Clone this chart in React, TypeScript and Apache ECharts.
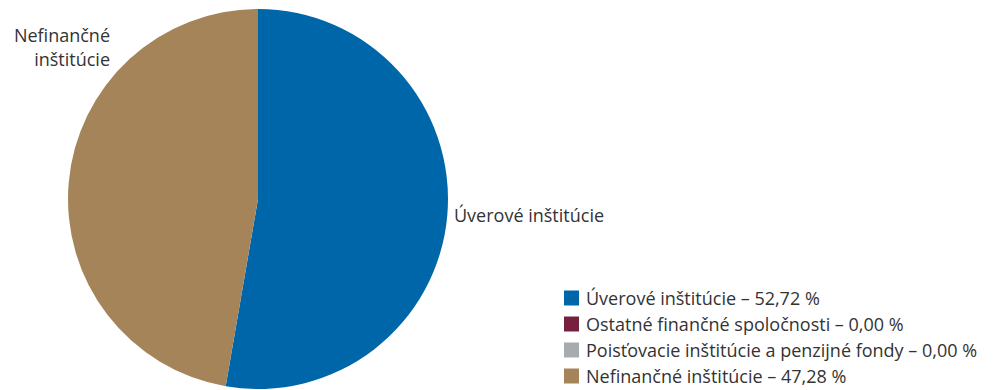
import React, { useEffect, useRef } from "react";
import * as echarts from "echarts";

const categories = [
  "Úverové inštitúcie",
  "Ostatné finančné spoločnosti",
  "Poisťovacie inštitúcie a penzijné fondy",
  "Nefinančné inštitúcie",
];
const values = [52.72, 0.0, 0.0, 47.28];
const colors = ["#0066aa", "#75203f", "#a6abaf", "#a5845a"];

const fmt = (v: number) => v.toFixed(2).replace(".", ",");

export default function App() {
  const ref = useRef<HTMLDivElement>(null);
  useEffect(() => {
    document.body.style.margin = "0";
    const chart = echarts.init(ref.current!, null, { renderer: "svg" });
    const font = "Open Sans";
    const txt = "#333";
    chart.setOption({
      animation: false,
      color: colors,
      textStyle: { fontFamily: font },
      legend: {
        orient: "vertical",
        left: 559,
        top: 284,
        height: 120,
        itemWidth: 15,
        itemHeight: 15,
        itemGap: 8,
        icon: "rect",
        data: categories,
        textStyle: { fontFamily: font, fontSize: 18, color: txt, padding: [0, 0, 0, 2] },
        formatter: (name: string) => {
          const i = categories.indexOf(name);
          return `${name} – ${fmt(values[i])} %`;
        },
      },
      graphic: [
        {
          type: "text",
          x: 454,
          y: 215,
          style: {
            text: categories[0],
            font: `18px "${font}"`,
            fill: txt,
            align: "left",
            verticalAlign: "middle",
          },
        },
        {
          type: "text",
          x: 110,
          y: 47,
          style: {
            text: categories[3].replace(" ", "\n"),
            font: `18px "${font}"`,
            lineHeight: 24,
            fill: txt,
            align: "right",
            verticalAlign: "middle",
          },
        },
      ],
      series: [
        {
          type: "pie",
          center: [258, 199],
          radius: 190,
          startAngle: 90,
          clockwise: true,
          data: categories.map((c, i) => ({ name: c, value: values[i] })),
          label: { show: false },
          labelLine: { show: false },
          emphasis: { disabled: true },
        },
      ],
    });
    return () => chart.dispose();
  }, []);
  return <div ref={ref} style={{ width: 1000, height: 390 }} />;
}
